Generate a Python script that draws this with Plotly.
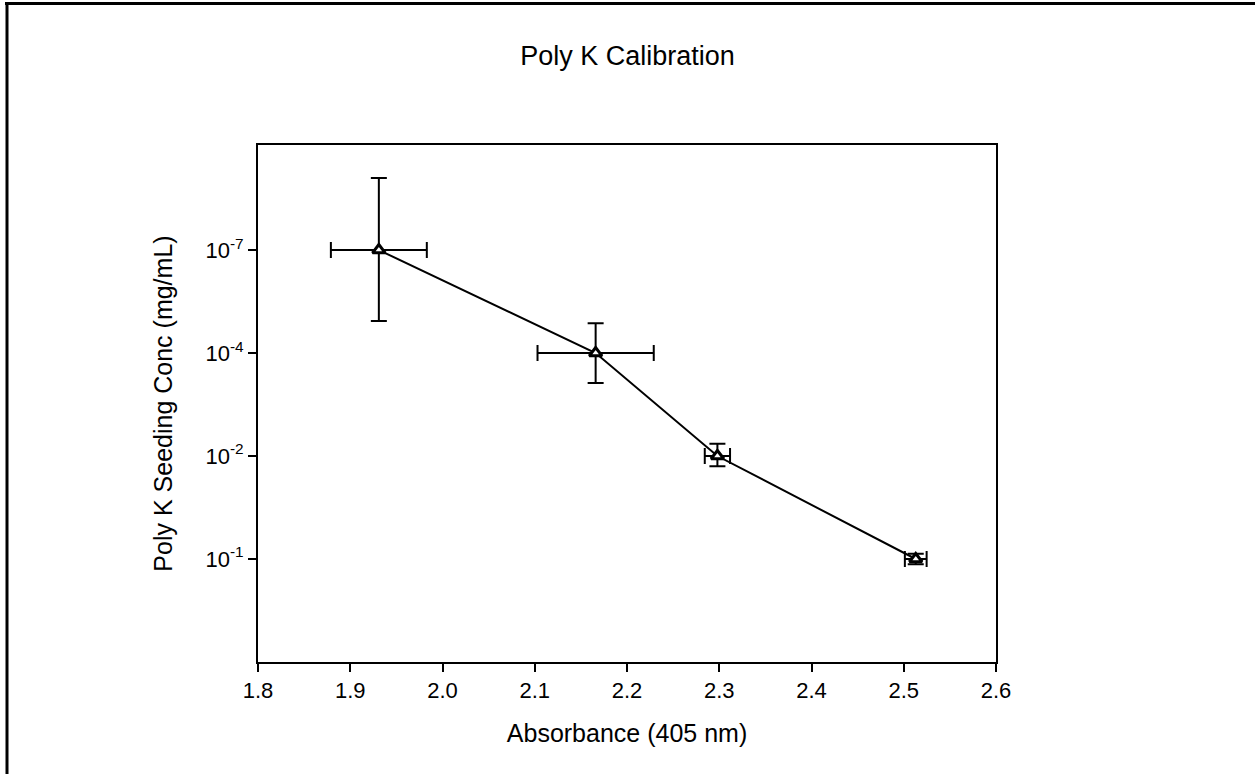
import plotly.graph_objects as go

# Data
absorbance = [1.931, 2.166, 2.298, 2.513]
absorbance_err = [0.052, 0.063, 0.0137, 0.0118]
conc_level = [3, 2, 1, 0]            # position on the (category-like) concentration axis
conc_err_plus = [0.70, 0.29, 0.12, 0.05]
conc_err_minus = [0.69, 0.29, 0.10, 0.05]
y_tick_vals = [3, 2, 1, 0]
y_tick_text = ["10<sup>-7</sup>", "10<sup>-4</sup>", "10<sup>-2</sup>", "10<sup>-1</sup>"]
x_tick_vals = [1.8, 1.9, 2.0, 2.1, 2.2, 2.3, 2.4, 2.5, 2.6]

W, H = 1255, 774
L, R, T, B = 258, 996, 145, 662

fig = go.Figure()
fig.add_trace(go.Scatter(
    x=absorbance, y=conc_level,
    mode="lines+markers",
    line=dict(color="black", width=2),
    marker=dict(symbol="triangle-up", size=11, color="white",
                line=dict(color="black", width=3)),
    error_x=dict(type="data", array=absorbance_err, color="black", thickness=2, width=8),
    error_y=dict(type="data", symmetric=False, array=conc_err_plus, arrayminus=conc_err_minus,
                 color="black", thickness=2, width=8),
    showlegend=False,
))

def px_x(p):
    return (p - L) / (R - L)

def px_y(p):
    return (B - p) / (B - T)

fig.update_layout(
    width=W, height=H,
    margin=dict(l=L, r=W - R, t=T, b=H - B, pad=0),
    paper_bgcolor="white", plot_bgcolor="white",
    font=dict(family="Liberation Sans, Arial, sans-serif", color="black"),
    title=dict(text="Poly K Calibration", x=0.5, xanchor="center",
               y=1 - 56 / H, yanchor="middle", font=dict(size=27)),
    xaxis=dict(range=[1.8, 2.6], tickvals=x_tick_vals, ticktext=[f"{v:.1f}" for v in x_tick_vals],
               showgrid=False, zeroline=False, showline=True, linecolor="black", linewidth=2,
               mirror=True, ticks="outside", ticklen=8, tickwidth=2, tickcolor="black",
               tickfont=dict(size=22),
               title=dict(text="Absorbance (405 nm)", font=dict(size=25), standoff=22)),
    yaxis=dict(range=[-1, 4.02], tickvals=y_tick_vals, ticktext=y_tick_text,
               showgrid=False, zeroline=False, showline=True, linecolor="black", linewidth=2,
               mirror=True, ticks="outside", ticklen=8, tickwidth=2, tickcolor="black",
               tickfont=dict(size=22),
               title=dict(text="Poly K Seeding Conc (mg/mL)", font=dict(size=25), standoff=26)),
    shapes=[
        dict(type="line", xref="paper", yref="paper", x0=px_x(5), x1=px_x(W + 5),
             y0=px_y(3.5), y1=px_y(3.5), line=dict(color="black", width=3)),
        dict(type="line", xref="paper", yref="paper", x0=px_x(7), x1=px_x(7),
             y0=px_y(2), y1=px_y(H + 5), line=dict(color="black", width=3)),
    ],
)

fig.write_html("out.html")
